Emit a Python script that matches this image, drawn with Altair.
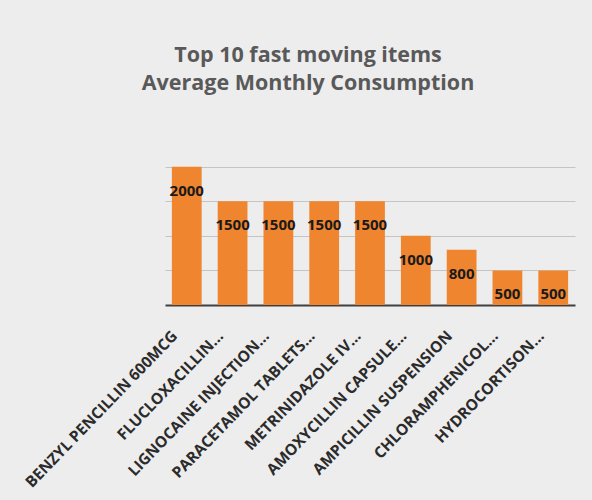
import altair as alt
import pandas as pd

items = [
    "BENZYL PENCILLIN 600MCG",
    "FLUCLOXACILLIN…",
    "LIGNOCAINE INJECTION…",
    "PARACETAMOL TABLETS…",
    "METRINIDAZOLE IV…",
    "AMOXYCILLIN CAPSULE…",
    "AMPICILLIN SUSPENSION",
    "CHLORAMPHENICOL…",
    "HYDROCORTISON…",
]
consumption = [2000, 1500, 1500, 1500, 1500, 1000, 800, 500, 500]

df = pd.DataFrame({"item": items, "value": consumption})

x = alt.X("item:N", sort=items, title=None,
          scale=alt.Scale(paddingInner=0.35, paddingOuter=0.15),
          axis=alt.Axis(labelAngle=-46, labelFont="Open Sans", labelFontWeight="bold",
                        labelFontSize=15.5, labelColor="#2b2b2b", ticks=False,
                        domainColor="#404040", domainWidth=2, labelPadding=28,
                        labelOffset=-12, labelLimit=300))
y = alt.Y("value:Q", title=None, scale=alt.Scale(domain=[0, 2400], nice=False),
          axis=alt.Axis(labels=False, ticks=False, domain=False, values=[500, 1000, 1500, 2000],
                        gridColor="#c4c4c4", gridWidth=1))

bars = alt.Chart(df).mark_bar(color="#F0852F").encode(x=x, y=y)
labels = alt.Chart(df).mark_text(dy=24, font="Open Sans", fontWeight="bold",
                                 fontSize=15, color="#1a1a1a").encode(
    x=alt.X("item:N", sort=items), y="value:Q", text="value:Q")

chart = (bars + labels).properties(
    width=410, height=166,
    title=alt.TitleParams(["Top 10 fast moving items", "Average Monthly Consumption"],
                          font="Open Sans", fontSize=21.5, fontWeight="bold",
                          color="#595959", dx=-62, offset=45, lineHeight=28),
    background="#ededed",
    padding={"left": 165, "top": 139, "right": 17, "bottom": 195},
    autosize=alt.AutoSizeParams(type="none"),
).configure_view(stroke=None)

chart.save("out.html", embed_options={"renderer": "svg", "actions": False})
